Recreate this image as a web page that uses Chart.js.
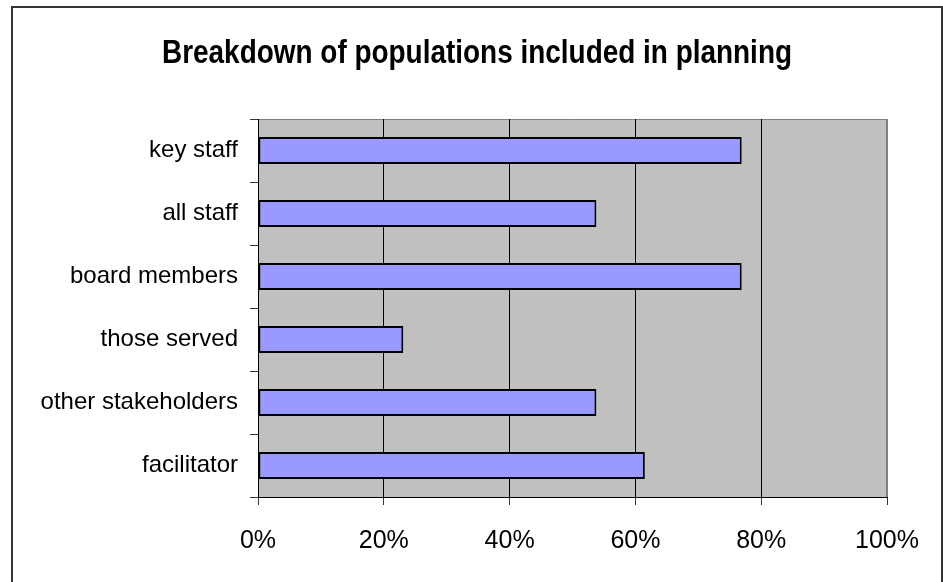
<!DOCTYPE html>
<html>
<head>
<meta charset="utf-8">
<script src="https://cdn.jsdelivr.net/npm/chart.js@4"></script>
<style>
  html, body { margin: 0; padding: 0; background: #fff; }
  #wrap { width: 943px; height: 582px; }
</style>
</head>
<body>
<div id="wrap"><canvas id="popchart" width="943" height="582"></canvas></div>
<script>
const chartTitle = 'Breakdown of populations included in planning';
const groups = ['key staff', 'all staff', 'board members', 'those served', 'other stakeholders', 'facilitator'];
const shares = [76.9, 53.8, 76.9, 23.1, 53.8, 61.5];
const xTicks = [0, 20, 40, 60, 80, 100];

// grey plot area and outer frame, like the old spreadsheet chart
const backdrop = {
    id: 'backdrop',
    beforeDraw(chart) {
        const c = chart.ctx;
        const a = chart.chartArea;
        c.save();
        c.fillStyle = '#fff';
        c.fillRect(0, 0, chart.width, chart.height);
        // frame runs off the bottom of the picture
        c.strokeStyle = '#333';
        c.lineWidth = 2;
        c.strokeRect(12, 7, 930, 600);
        c.fillStyle = '#c0c0c0';
        c.fillRect(a.left, a.top, a.right - a.left, a.bottom - a.top);
        c.strokeStyle = '#808080';
        c.lineWidth = 1;
        c.beginPath();
        c.moveTo(a.left, a.top + 0.5);
        c.lineTo(a.right - 0.5, a.top + 0.5);
        c.lineTo(a.right - 0.5, a.bottom);
        c.stroke();
        c.restore();
    }
};

// the title font in the original is a condensed bold face, squeeze it to fit
const narrowTitle = {
    id: 'narrowTitle',
    afterDraw(chart) {
        const c = chart.ctx;
        c.save();
        c.font = 'bold 33px "Liberation Sans", Arial, sans-serif';
        c.fillStyle = '#000';
        c.textAlign = 'center';
        c.textBaseline = 'middle';
        const w = c.measureText(chartTitle).width;
        const sx = 630 / w;
        c.translate(477, 54);
        c.scale(sx, 1);
        c.fillText(chartTitle, 0, 0);
        c.restore();
    }
};

const ctx = document.getElementById('popchart').getContext('2d');

new Chart(ctx, {
    type: 'bar',
    data: {
        labels: groups,
        datasets: [{
            data: shares,
            backgroundColor: '#9999ff',
            borderColor: '#000',
            borderWidth: 2,
            borderSkipped: false,
            categoryPercentage: 1,
            barPercentage: 0.43
        }]
    },
    options: {
        indexAxis: 'y',
        responsive: false,
        animation: false,
        layout: { padding: { left: 0, right: 56, top: 119, bottom: 0 } },
        plugins: {
            legend: { display: false },
            tooltip: { enabled: false },
            title: { display: false }
        },
        scales: {
            x: {
                min: 0,
                max: 100,
                afterBuildTicks(scale) {
                    scale.ticks = xTicks.map(v => ({ value: v }));
                },
                afterFit(scale) { scale.height = 85; },
                ticks: {
                    color: '#000',
                    padding: 21,
                    font: { family: '"Liberation Sans", Arial, sans-serif', size: 25 },
                    callback: v => v + '%'
                },
                grid: {
                    color: c => (c.tick && c.tick.value === 100) ? '#808080' : '#000',
                    tickColor: '#333',
                    tickLength: 8,
                    lineWidth: 1
                },
                border: { color: '#000', width: 1 }
            },
            y: {
                afterFit(scale) { scale.width = 258; },
                ticks: {
                    color: '#000',
                    padding: 12,
                    font: { family: '"Liberation Sans", Arial, sans-serif', size: 24 }
                },
                grid: {
                    offset: true,
                    drawOnChartArea: false,
                    tickColor: '#333',
                    tickLength: 8
                },
                border: { color: '#000', width: 1 }
            }
        }
    },
    plugins: [backdrop, narrowTitle]
});
</script>
</body>
</html>
